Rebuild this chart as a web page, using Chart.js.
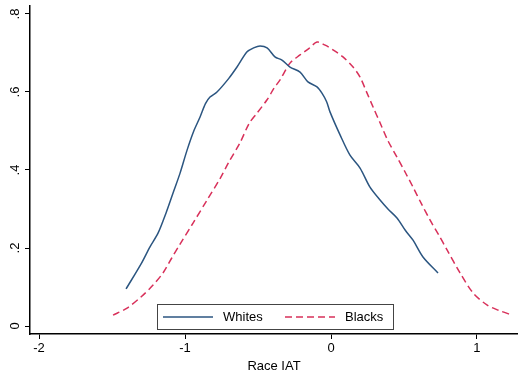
<!DOCTYPE html>
<html>
<head>
<meta charset="utf-8">
<script src="https://cdn.jsdelivr.net/npm/chart.js@4"></script>
<style>
  body { margin: 0; background: #fff; }
  #wrap { width: 518px; height: 374px; position: relative; }
</style>
</head>
<body>
<div id="wrap"><canvas id="myChart"></canvas></div>
<script>
// kernel density of Race IAT
const whitesX = [-1.404, -1.30, -1.240, -1.185, -1.130, -1.082, -1.034, -0.986, -0.940, -0.897, -0.860, -0.829, -0.781, -0.700, -0.644, -0.575, -0.530, -0.486, -0.438, -0.384, -0.336, -0.281, -0.212, -0.158, -0.096, -0.062, -0.030, -0.007, 0.062, 0.130, 0.199, 0.267, 0.336, 0.390, 0.452, 0.510, 0.562, 0.630, 0.733];
const whitesY = [0.095, 0.160, 0.203, 0.238, 0.290, 0.341, 0.392, 0.451, 0.500, 0.536, 0.570, 0.587, 0.600, 0.635, 0.664, 0.703, 0.713, 0.718, 0.713, 0.690, 0.682, 0.664, 0.651, 0.626, 0.613, 0.597, 0.575, 0.549, 0.490, 0.438, 0.405, 0.356, 0.323, 0.300, 0.277, 0.245, 0.220, 0.177, 0.136];

const blacksX = [-1.493, -1.397, -1.300, -1.219, -1.151, -1.090, -1.034, -0.945, -0.849, -0.760, -0.700, -0.623, -0.560, -0.507, -0.438, -0.390, -0.349, -0.281, -0.212, -0.150, -0.096, -0.040, 0.014, 0.082, 0.151, 0.199, 0.247, 0.290, 0.336, 0.390, 0.452, 0.510, 0.562, 0.620, 0.678, 0.740, 0.795, 0.884, 0.973, 1.068, 1.150, 1.240];
const blacksY = [0.028, 0.046, 0.075, 0.105, 0.136, 0.175, 0.210, 0.264, 0.323, 0.378, 0.420, 0.470, 0.520, 0.546, 0.580, 0.610, 0.631, 0.674, 0.695, 0.712, 0.728, 0.720, 0.708, 0.690, 0.664, 0.638, 0.597, 0.560, 0.521, 0.475, 0.433, 0.393, 0.356, 0.313, 0.272, 0.232, 0.195, 0.136, 0.085, 0.054, 0.040, 0.028];

const xTicks = [-2, -1, 0, 1];
const yTicks = [0, 0.2, 0.4, 0.6, 0.8];
const seriesNames = ['Whites', 'Blacks'];

const FONT = 'Liberation Sans, Arial, sans-serif';

function pts(xs, ys) {
    return xs.map((x, i) => ({ x: x, y: ys[i] }));
}

function yLabel(v) {
    return v === 0 ? '0' : String(v).replace('0.', '.');
}

// y tick labels, turned like in stata
const yLabels = {
    id: 'yLabels',
    afterDraw(chart) {
        const ctx = chart.ctx;
        const y = chart.scales.y;
        ctx.save();
        ctx.font = '13px ' + FONT;
        ctx.fillStyle = '#000';
        ctx.textAlign = 'center';
        ctx.textBaseline = 'middle';
        yTicks.forEach(v => {
            ctx.save();
            ctx.translate(15, y.getPixelForValue(v));
            ctx.rotate(-Math.PI / 2);
            ctx.fillText(yLabel(v), 0, 0);
            ctx.restore();
        });
        ctx.restore();
    }
};

// boxed legend inside the plot
const boxLegend = {
    id: 'boxLegend',
    afterDraw(chart) {
        const ctx = chart.ctx;
        const left = 157, top = 304, w = 236, h = 25;
        ctx.save();
        ctx.fillStyle = '#fff';
        ctx.fillRect(left, top, w, h);
        ctx.strokeStyle = '#444';
        ctx.lineWidth = 1;
        ctx.strokeRect(left + 0.5, top + 0.5, w, h);
        ctx.font = '13px ' + FONT;
        ctx.textBaseline = 'middle';
        const cy = top + h / 2 + 0.5;
        const starts = [163, 285];
        chart.data.datasets.forEach((ds, i) => {
            const sx = starts[i];
            ctx.strokeStyle = ds.borderColor;
            ctx.lineWidth = 1.5;
            ctx.setLineDash(ds.borderDash || []);
            ctx.beginPath();
            ctx.moveTo(sx, cy);
            ctx.lineTo(sx + 50, cy);
            ctx.stroke();
            ctx.setLineDash([]);
            ctx.fillStyle = '#000';
            ctx.fillText(ds.label, sx + 60, cy);
        });
        ctx.restore();
    }
};

const ctx1 = document.getElementById('myChart');

new Chart(ctx1, {
    type: 'scatter',
    data: {
        datasets: [{
            label: seriesNames[0],
            data: pts(whitesX, whitesY),
            showLine: true,
            borderColor: '#2b5580',
            borderWidth: 1.5,
            pointRadius: 0,
            tension: 0.3,
        }, {
            label: seriesNames[1],
            data: pts(blacksX, blacksY),
            showLine: true,
            borderColor: '#d8305a',
            borderWidth: 1.5,
            borderDash: [7, 4],
            pointRadius: 0,
            tension: 0.3,
        }],
    },
    options: {
        responsive: true,
        maintainAspectRatio: false,
        animation: false,
        layout: {
            padding: { top: 6, right: 0, left: 0, bottom: 0 }
        },
        plugins: {
            legend: { display: false },
            tooltip: { enabled: false }
        },
        scales: {
            x: {
                type: 'linear',
                min: -2.062,
                max: 1.281,
                afterBuildTicks: s => { s.ticks = xTicks.map(v => ({ value: v })); },
                afterFit: s => { s.height = 40; },
                ticks: {
                    callback: v => String(v),
                    font: { size: 13, family: FONT },
                    color: '#000',
                    padding: 2,
                    maxRotation: 0,
                },
                grid: {
                    drawOnChartArea: false,
                    tickLength: 5,
                    color: '#000',
                },
                border: { color: '#000', width: 1.5 },
                title: {
                    display: true,
                    text: 'Race IAT',
                    font: { size: 13, family: FONT },
                    color: '#000',
                    padding: 0,
                }
            },
            y: {
                type: 'linear',
                min: -0.0205,
                max: 0.8205,
                afterBuildTicks: s => { s.ticks = yTicks.map(v => ({ value: v })); },
                afterFit: s => { s.width = 30; },
                ticks: { display: false },
                grid: {
                    drawOnChartArea: false,
                    tickLength: 5,
                    color: '#000',
                },
                border: { color: '#000', width: 1.5 },
            }
        }
    },
    plugins: [yLabels, boxLegend]
});
</script>
</body>
</html>
